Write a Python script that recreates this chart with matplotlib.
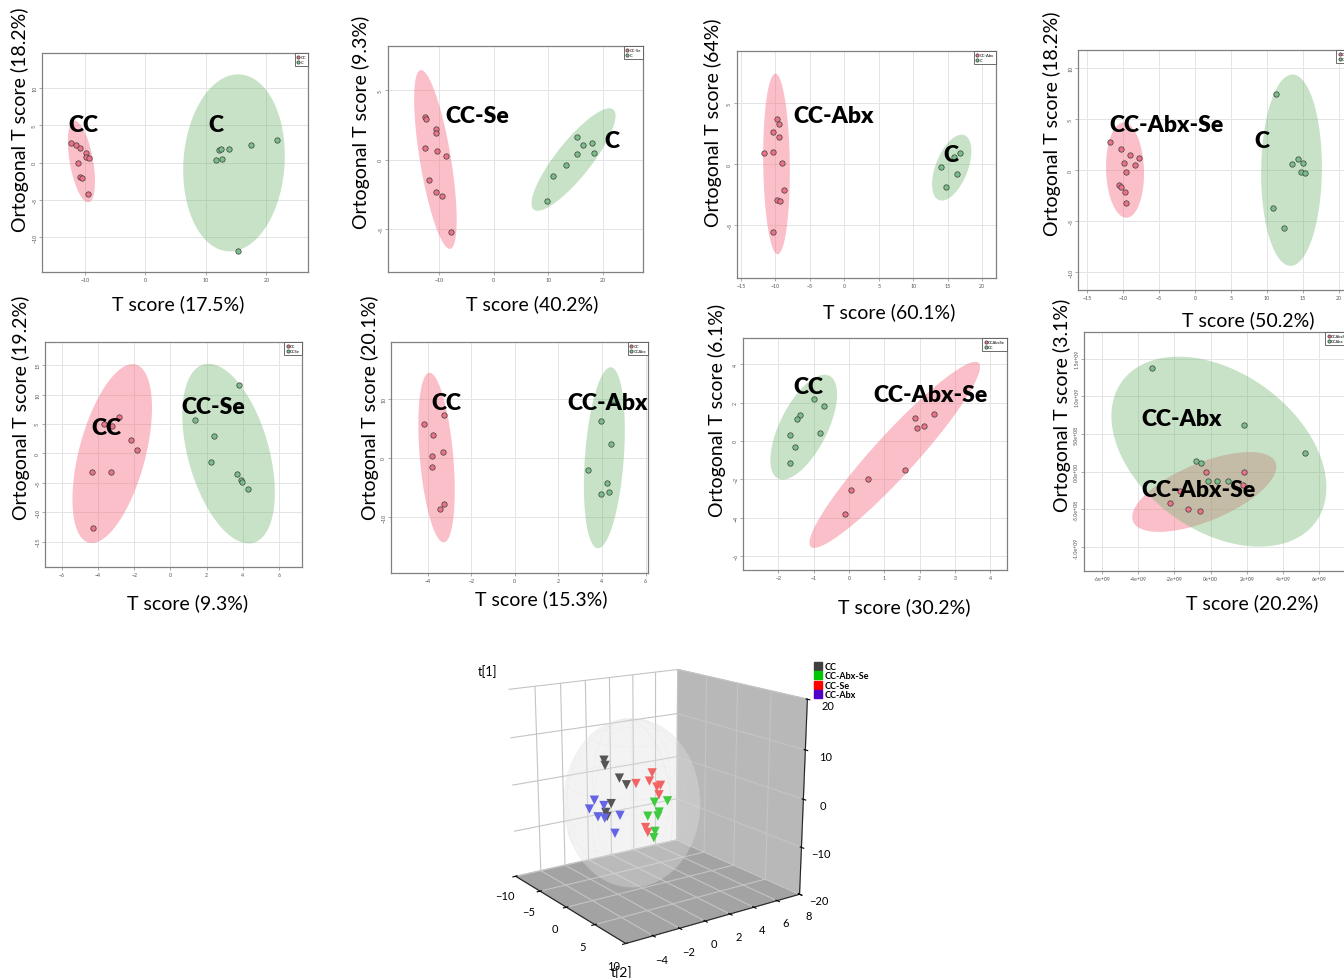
import numpy as np
import matplotlib
matplotlib.use("Agg")
import matplotlib.pyplot as plt
from matplotlib.lines import Line2D

W, H = 1344, 979

# ---------------- data ----------------
# panel 1: CC vs C
p1_cc_x = [-12.25, -11.5, -10.8, -9.9, -9.85, -9.4, -11.2, -10.8, -10.5, -9.55]
p1_cc_y = [2.7, 2.4, 2.0, 1.3, 0.7, 0.6, -0.1, -1.95, -2.0, -4.2]
p1_c_x = [11.7, 12.2, 12.5, 12.6, 13.8, 17.5, 21.7, 15.3]
p1_c_y = [0.36, 1.7, 1.8, 0.45, 1.8, 2.4, 3.1, -11.8]

# panel 2: CC-Se vs C
p2_ccse_x = [-12.6, -12.3, -10.5, -10.5, -12.5, -10.4, -8.7, -11.8, -10.5, -9.5, -7.7]
p2_ccse_y = [3.04, 2.92, 2.2, 1.91, 0.84, 0.6, 0.24, -1.46, -2.32, -2.63, -5.2]
p2_c_x = [9.7, 10.85, 13.3, 15.15, 15.15, 16.4, 18.0, 18.3]
p2_c_y = [-2.99, -1.17, -0.41, 0.38, 1.6, 1.03, 1.17, 0.45]

# panel 3: CC-Abx vs C
p3_ccabx_x = [-9.75, -9.46, -10.28, -9.46, -11.64, -10.38, -9.07, -8.78, -9.8, -9.31, -10.33]
p3_ccabx_y = [3.66, 3.33, 2.65, 2.19, 0.87, 0.96, 0.11, -2.16, -2.95, -3.03, -5.6]
p3_c_x = [14.02, 14.8, 16.0, 16.39, 16.83]
p3_c_y = [-0.25, -1.89, 0.57, -0.79, 0.87]

# panel 4: CC-Abx-Se vs C
p4_ccabxse_x = [-11.8, -10.28, -8.98, -7.82, -9.9, -8.38, -9.63, -10.56, -10.23, -9.72, -9.63]
p4_ccabxse_y = [2.81, 2.06, 1.47, 1.15, 0.69, 0.52, -0.2, -1.47, -1.64, -2.13, -3.27]
p4_c_x = [11.3, 14.35, 13.47, 14.95, 14.72, 15.28, 10.83, 12.31]
p4_c_y = [7.43, 1.11, 0.59, 0.72, -0.23, -0.29, -3.7, -5.66]

# panel 5: CC vs CC-Se
p5_cc_x = [-2.82, -3.68, -3.24, -2.19, -1.86, -4.35, -3.30, -4.25]
p5_cc_y = [6.24, 4.93, 4.7, 2.21, 0.51, -3.17, -3.17, -12.64]
p5_ccse_x = [3.76, 1.38, 2.43, 2.25, 3.70, 3.92, 3.96, 4.27]
p5_ccse_y = [11.68, 5.61, 2.89, -1.53, -3.57, -4.48, -4.88, -6.12]

# panel 6: CC vs CC-Abx
p6_cc_x = [-4.17, -3.26, -3.77, -3.78, -3.29, -3.81, -3.23, -3.41]
p6_cc_y = [5.8, 7.32, 3.83, 0.39, 1.07, -1.46, -7.83, -8.56]
p6_ccabx_x = [3.97, 4.41, 3.37, 4.21, 4.32, 3.97, 4.5]
p6_ccabx_y = [6.25, 2.42, -2.08, -4.28, -5.75, -6.14, 9.8]

# panel 7: CC-Abx-Se vs CC
p7_ccabxse_x = [1.87, 2.40, 1.93, 2.11, 1.57, 0.53, 0.06, -0.12]
p7_ccabxse_y = [1.20, 1.40, 0.70, 0.79, -1.54, -1.99, -2.57, -3.79]
p7_cc_x = [-0.99, -0.72, -1.40, -1.46, -1.67, -0.81, -1.53, -1.68]
p7_cc_y = [2.18, 1.82, 1.38, 1.13, 0.33, 0.40, -0.31, -1.15]

# panel 8: CC-Abx-Se vs CC-Abx (units of 1e9)
p8_ccabxse_x = [-0.28, 1.84, 1.81, -1.71, -2.27, -1.25, -0.61]
p8_ccabxse_y = [-0.009, -0.009, -0.173, -0.253, -0.417, -0.496, -0.519]
p8_ccabx_x = [-3.23, 1.84, 5.20, -0.81, -0.52, -0.15, 0.33, 0.98]
p8_ccabx_y = [1.374, 0.625, 0.248, 0.142, 0.115, -0.129, -0.120, -0.124]

x_pct = ["17.5", "40.2", "60.1", "50.2", "9.3", "15.3", "30.2", "20.2"]
y_pct = ["18.2", "9.3", "64", "18.2", "19.2", "20.1", "6.1", "3.1"]
legend_names = [["CC", "C"], ["CC-Se", "C"], ["CC-Abx", "C"], ["CCAbxSe", "C"],
                ["CC", "CCSe"], ["CC", "CCAbx"], ["CCAbxSe", "CC"], ["CCAbxSe", "CCAbx"]]
group_names = [["CC", "C"], ["CC-Se", "C"], ["CC-Abx", "C"], ["CC-Abx-Se", "C"],
               ["CC", "CC-Se"], ["CC", "CC-Abx"], ["CC-Abx-Se", "CC"], ["CC-Abx", "CC-Abx-Se"]]

p8_xticklabels = ["-6e+09", "-4e+09", "-2e+09", "0e+00", "2e+09", "4e+09", "6e+09"]
p8_yticklabels = ["-1.0e+09", "-5.0e+08", "0.0e+00", "5.0e+08", "1.0e+09", "1.5e+09"]

# 3D score plot: t[2] (depth), t[0] (horizontal), t[1] (vertical)
s3_groups = ["CC", "CC-Abx-Se", "CC-Se", "CC-Abx"]
s3_cc = dict(t2=[1, -2, 2, 0, 3, -1, 2], t0=[-3.4, -2.0, -2.7, -1.24, -4.1, -2.0, -3.76],
             t1=[9.0, 6.0, 5.6, 2.6, -0.8, -1.4, -0.7])
s3_ccabxse = dict(t2=[1, -1, 2, 0, -2, 1, -1], t0=[-0.03, 1.49, 0.3, 2.08, 2.38, 0.46, 1.54],
                  t1=[-4.0, -2.9, -3.6, -2.4, -6.0, -8.8, -9.2])
s3_ccse = dict(t2=[0, 2, -1, 1, -2, 3, 0, -3], t0=[-0.49, -0.38, 1.3, 1.0, 2.19, -1.0, 0.27, 2.86],
               t1=[2.5, 3.9, 3.4, 1.9, -0.5, -5.7, -7.1, -3.0])
s3_ccabx = dict(t2=[2, 0, 3, -1, 1, 2, -2], t0=[-4.97, -3.73, -4.78, -2.57, -3.4, -3.08, -0.86],
                t1=[0.6, 0.7, -0.5, -1.5, -2.6, -5.3, -5.0])
s3_ellipsoid_radii = [6.5, 4.5, 17.0]   # Hotelling T2 region: t[2], t[0], t[1]

# ---------------- figure ----------------
plt.rcParams['font.family'] = ['Lato', 'DejaVu Sans']
fig = plt.figure(figsize=(W / 100, H / 100), dpi=100)

RED_PT, GREEN_PT = '#ec7387', '#78c088'
RED_EL, GREEN_EL = (0.96, 0.45, 0.52), (0.45, 0.72, 0.45)


def px_rect(l, t, r, b):
    return [l / W, 1 - b / H, (r - l) / W, (b - t) / H]


def ftext(x, y, s, **kw):
    fig.text(x / W, 1 - y / H, s, ha='center', va='center', **kw)


def conf_ellipse(ax, x, y, color, alpha):
    x, y = np.asarray(x, float), np.asarray(y, float)
    vals, vecs = np.linalg.eigh(np.cov(x, y))
    t = np.linspace(0, 2 * np.pi, 200)
    circ = np.vstack([np.cos(t), np.sin(t)]) * np.sqrt(5.991)
    pts = vecs @ (np.sqrt(vals)[:, None] * circ)
    ax.fill(x.mean() + pts[0], y.mean() + pts[1], color=color, alpha=alpha, lw=0, zorder=1)


scale8 = 1e9
panels = [
    (p1_cc_x, p1_cc_y, p1_c_x, p1_c_y, 1),
    (p2_ccse_x, p2_ccse_y, p2_c_x, p2_c_y, 1),
    (p3_ccabx_x, p3_ccabx_y, p3_c_x, p3_c_y, 1),
    (p4_ccabxse_x, p4_ccabxse_y, p4_c_x, p4_c_y, 1),
    (p5_cc_x, p5_cc_y, p5_ccse_x, p5_ccse_y, 1),
    (p6_cc_x, p6_cc_y, p6_ccabx_x, p6_ccabx_y, 1),
    (p7_ccabxse_x, p7_ccabxse_y, p7_cc_x, p7_cc_y, 1),
    (p8_ccabxse_x, p8_ccabxse_y, p8_ccabx_x, p8_ccabx_y, scale8),
]

# layout: axes box in px, limits, ticks, label positions
layout = [
    dict(box=(42, 54, 308, 273), xlim=(-17.1, 26.9), ylim=(-14.65, 14.7),
         xt=[-10, 0, 10, 20], yt=[-10, -5, 0, 5, 10],
         xl=(178, 304), yl=(20, 120), g=[(83, 125), (216, 125)]),
    dict(box=(388, 47, 643, 273), xlim=(-19.3, 27.3), ylim=(-8.07, 8.16),
         xt=[-10, 0, 10, 20], yt=[-5, 0, 5],
         xl=(532, 304), yl=(361, 122), g=[(477, 117), (612, 142)]),
    dict(box=(737, 52, 996, 279), xlim=(-15.58, 22.04), ylim=(-9.37, 9.29),
         xt=[-15, -10, -5, 0, 5, 10, 15, 20], yt=[-5, 0, 5],
         xl=(889, 312), yl=(713, 123), g=[(834, 117), (951, 155)]),
    dict(box=(1078, 51, 1361, 291), xlim=(-16.25, 23.05), ylim=(-11.77, 11.8),
         xt=[-15, -10, -5, 0, 5, 10, 15, 20], yt=[-10, -5, 0, 5, 10],
         xl=(1248, 320), yl=(1052, 124), g=[(1167, 125), (1262, 142)]),
    dict(box=(45, 343, 302, 568), xlim=(-6.92, 7.26), ylim=(-19.33, 18.93),
         xt=[-6, -4, -2, 0, 2, 4, 6], yt=[-15, -10, -5, 0, 5, 10, 15],
         xl=(188, 603), yl=(21, 408), g=[(106, 429), (213, 408)]),
    dict(box=(391, 343, 648, 574), xlim=(-5.68, 6.11), ylim=(-19.44, 19.6),
         xt=[-4, -2, 0, 2, 4, 6], yt=[-10, 0, 10],
         xl=(541, 599), yl=(370, 408), g=[(446, 404), (608, 404)]),
    dict(box=(743, 339, 1007, 571), xlim=(-3.0, 4.47), ylim=(-6.74, 5.38),
         xt=[-2, -1, 0, 1, 2, 3, 4], yt=[-6, -4, -2, 0, 2, 4],
         xl=(904, 607), yl=(717, 410), g=[(931, 396), (808, 387)]),
    dict(box=(1084, 333, 1350, 572), xlim=(-7.0e9, 7.7e9), ylim=(-1.316e9, 1.853e9),
         xt=[-6e9, -4e9, -2e9, 0, 2e9, 4e9, 6e9], yt=[-1e9, -5e8, 0, 5e8, 1e9, 1.5e9],
         xl=(1252, 603), yl=(1062, 405), g=[(1182, 420), (1199, 491)]),
]

for i, ((rx, ry, gx, gy, sc), L) in enumerate(zip(panels, layout)):
    ax = fig.add_axes(px_rect(*L['box']))
    rx = np.asarray(rx) * sc
    ry = np.asarray(ry) * sc
    gx = np.asarray(gx) * sc
    gy = np.asarray(gy) * sc
    conf_ellipse(ax, rx, ry, RED_EL, 0.45)
    conf_ellipse(ax, gx, gy, GREEN_EL, 0.40)
    h1 = ax.scatter(rx, ry, s=15, c=RED_PT, edgecolors='#3a3a3a', linewidths=0.5, zorder=3)
    h2 = ax.scatter(gx, gy, s=15, c=GREEN_PT, edgecolors='#3a3a3a', linewidths=0.5, zorder=3)
    ax.set_xlim(L['xlim'])
    ax.set_ylim(L['ylim'])
    ax.set_xticks(L['xt'])
    ax.set_yticks(L['yt'])
    if i == 7:
        ax.set_xticklabels(p8_xticklabels)
        ax.set_yticklabels(p8_yticklabels)
    for lab in ax.get_yticklabels():
        lab.set_rotation(90)
        lab.set_va('center')
    ax.tick_params(labelsize=3.8, length=2, width=0.5, color='#888888',
                   labelcolor='#555555', pad=1.5)
    ax.grid(color='#e4e4e4', lw=0.7)
    ax.set_axisbelow(True)
    for sp in ax.spines.values():
        sp.set_color('#808080')
        sp.set_linewidth(0.9)
    leg = ax.legend([h1, h2], legend_names[i], loc='upper right', fontsize=3,
                    borderaxespad=0, handlelength=0.6, handletextpad=0.3, borderpad=0.5,
                    labelspacing=0.2, fancybox=False, edgecolor='#555555', framealpha=1,
                    markerscale=0.6)
    leg.get_frame().set_linewidth(0.6)
    ftext(*L['xl'], "T score (%s%%)" % x_pct[i], fontsize=14)
    ftext(*L['yl'], "Ortogonal T score (%s%%)" % y_pct[i], fontsize=14, rotation=90)
    for name, pos in zip(group_names[i], L['g']):
        ftext(*pos, name, fontsize=16.5, fontweight='heavy')

# ---------------- 3D scores ----------------
ax3 = fig.add_axes(px_rect(455, 633, 845, 962), projection='3d')
ax3.computed_zorder = False
ax3.view_init(elev=16, azim=-35)
ax3.set_proj_type('persp', focal_length=0.6)
ax3.set_box_aspect((1, 1, 0.95), zoom=1.05)
ax3.xaxis.set_pane_color((1, 1, 1, 1))
ax3.yaxis.set_pane_color((0.72, 0.72, 0.72, 1))
ax3.zaxis.set_pane_color((0.64, 0.64, 0.64, 1))
for a in (ax3.xaxis, ax3.yaxis, ax3.zaxis):
    a._axinfo['grid'].update(color='#c4c4c4', linewidth=0.8)
    a.line.set_color('#222222')

allpts = [s3_cc, s3_ccabxse, s3_ccse, s3_ccabx]
cx = np.mean(np.concatenate([g['t2'] for g in allpts]))
cy = np.mean(np.concatenate([g['t0'] for g in allpts]))
cz = np.mean(np.concatenate([g['t1'] for g in allpts]))
u = np.linspace(0, 2 * np.pi, 60)
v = np.linspace(0, np.pi, 30)
ex = cx + s3_ellipsoid_radii[0] * np.outer(np.cos(u), np.sin(v))
ey = cy + s3_ellipsoid_radii[1] * np.outer(np.sin(u), np.sin(v))
ez = cz + s3_ellipsoid_radii[2] * np.outer(np.ones_like(u), np.cos(v))
ax3.plot_surface(ex, ey, ez, color='#e2e2e2', alpha=0.22, linewidth=0, shade=False, zorder=1)
ax3.plot_wireframe(ex, ey, ez, color='#cfcfcf', alpha=0.12, linewidth=0.4,
                   rstride=6, cstride=6, zorder=1)

cols3 = ['#555555', '#3fcb3f', '#f26464', '#6464e6']
for g, c in zip(allpts, cols3):
    ax3.scatter(g['t2'], g['t0'], g['t1'], marker='v', s=45, c=c, depthshade=False,
                edgecolors='none', zorder=3)

ax3.set_xlim(-10, 10)
ax3.set_ylim(-6, 8)
ax3.set_zlim(-20, 20)
ax3.set_xticks([-10, -5, 0, 5, 10])
ax3.set_yticks([-4, -2, 0, 2, 4, 6, 8])
ax3.set_zticks([-20, -10, 0, 10, 20])
ax3.tick_params(labelsize=8, pad=0)
ftext(488, 672, "t[1]", fontsize=9)
ftext(622, 973, "t[2]", fontsize=10)

leg_cols = ['#404040', '#00c800', '#ff0000', '#5000c8']
handles = [Line2D([], [], marker='s', ls='', color=c, markersize=6) for c in leg_cols]
fig.legend(handles, s3_groups, loc='upper left', bbox_to_anchor=(814 / W, 1 - 663 / H),
           frameon=False, prop=dict(weight='bold', size=6.5),
           handlelength=0.8, handletextpad=0.4, labelspacing=0.05, borderpad=0,
           borderaxespad=0)

fig.savefig("out.png", dpi=100, facecolor='white')
